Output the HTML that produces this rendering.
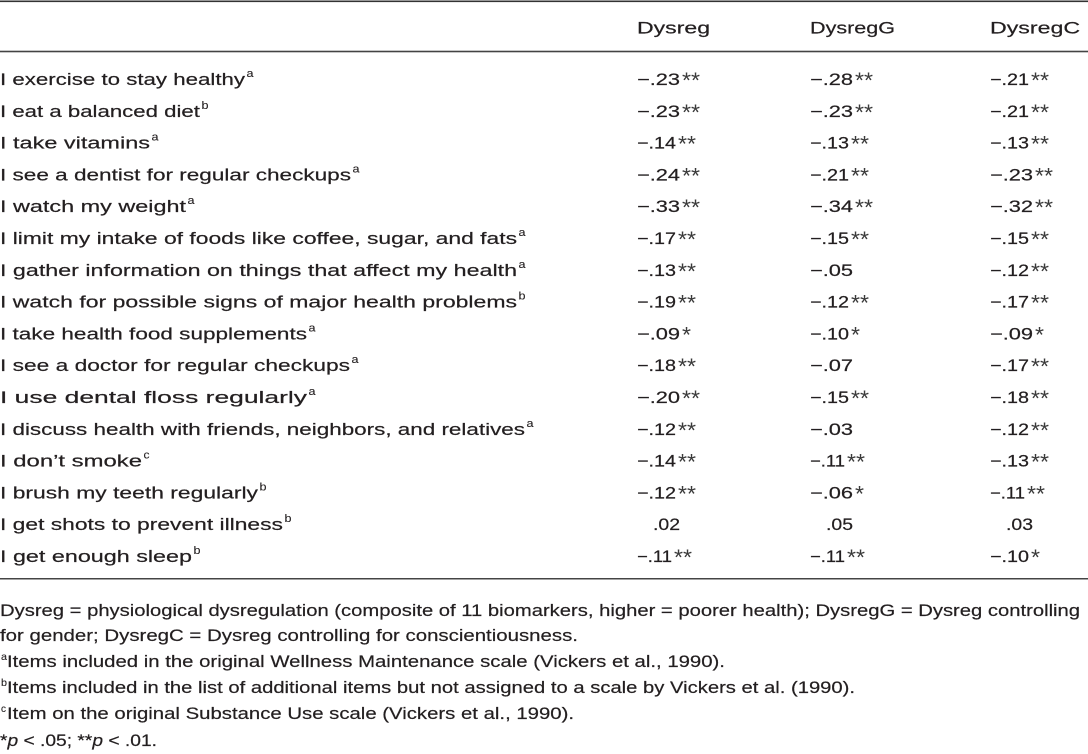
<!DOCTYPE html>
<html>
<head>
<meta charset="utf-8">
<style>
  html, body { margin: 0; padding: 0; background: #ffffff; }
  body { width: 1088px; height: 754px; overflow: hidden; }
  svg { display: block; }
  text { font-family: "Liberation Sans", Arial, sans-serif; fill: #231f20; stroke: #231f20; stroke-width: 0.2px; }
  .m { font-size: 16.3px; }
  .s { font-size: 11px; stroke-width: 0.1px; }
  .st { font-size: 22px; fill: #3a3a3a; stroke: none; }
  .f { font-size: 16.5px; }
  .fs { font-size: 10.5px; stroke-width: 0.1px; }
</style>
</head>
<body>
<svg width="1088" height="754" viewBox="0 0 1088 754" xmlns="http://www.w3.org/2000/svg">
  <!-- rules -->
  <rect x="0" y="0.5" width="1088" height="1.6" fill="#333"/>
  <rect x="0" y="50.7" width="1088" height="1.6" fill="#444"/>
  <rect x="0" y="578" width="1088" height="1.5" fill="#444"/>

  <!-- header -->
  <text class="m" transform="matrix(1.35 0 0 1 637 33.3)" textLength="54.1" lengthAdjust="spacingAndGlyphs">Dysreg</text>
  <text class="m" transform="matrix(1.35 0 0 1 810 33.3)" textLength="63" lengthAdjust="spacingAndGlyphs">DysregG</text>
  <text class="m" transform="matrix(1.35 0 0 1 990 33.3)" textLength="66.7" lengthAdjust="spacingAndGlyphs">DysregC</text>

  <!-- row labels -->
  <text class="m" transform="matrix(1.35 0 0 1 0 85)" textLength="181.5" lengthAdjust="spacingAndGlyphs">I exercise to stay healthy</text>
  <text class="s" x="246.5" y="77" textLength="7" lengthAdjust="spacingAndGlyphs">a</text>

  <text class="m" transform="matrix(1.35 0 0 1 0 116.8)" textLength="148.1" lengthAdjust="spacingAndGlyphs">I eat a balanced diet</text>
  <text class="s" x="201.5" y="108.8" textLength="7" lengthAdjust="spacingAndGlyphs">b</text>

  <text class="m" transform="matrix(1.35 0 0 1 0 148.6)" textLength="111.1" lengthAdjust="spacingAndGlyphs">I take vitamins</text>
  <text class="s" x="151.5" y="140.6" textLength="7" lengthAdjust="spacingAndGlyphs">a</text>

  <text class="m" transform="matrix(1.35 0 0 1 0 180.4)" textLength="260" lengthAdjust="spacingAndGlyphs">I see a dentist for regular checkups</text>
  <text class="s" x="352.5" y="172.4" textLength="7" lengthAdjust="spacingAndGlyphs">a</text>

  <text class="m" transform="matrix(1.35 0 0 1 0 212.2)" textLength="137.8" lengthAdjust="spacingAndGlyphs">I watch my weight</text>
  <text class="s" x="187.5" y="204.2" textLength="7" lengthAdjust="spacingAndGlyphs">a</text>

  <text class="m" transform="matrix(1.35 0 0 1 0 244)" textLength="383" lengthAdjust="spacingAndGlyphs">I limit my intake of foods like coffee, sugar, and fats</text>
  <text class="s" x="518.5" y="236" textLength="7" lengthAdjust="spacingAndGlyphs">a</text>

  <text class="m" transform="matrix(1.35 0 0 1 0 275.8)" textLength="383" lengthAdjust="spacingAndGlyphs">I gather information on things that affect my health</text>
  <text class="s" x="518.5" y="267.8" textLength="7" lengthAdjust="spacingAndGlyphs">a</text>

  <text class="m" transform="matrix(1.35 0 0 1 0 307.6)" textLength="383" lengthAdjust="spacingAndGlyphs">I watch for possible signs of major health problems</text>
  <text class="s" x="518.5" y="299.6" textLength="7" lengthAdjust="spacingAndGlyphs">b</text>

  <text class="m" transform="matrix(1.35 0 0 1 0 339.4)" textLength="227.4" lengthAdjust="spacingAndGlyphs">I take health food supplements</text>
  <text class="s" x="308.5" y="331.4" textLength="7" lengthAdjust="spacingAndGlyphs">a</text>

  <text class="m" transform="matrix(1.35 0 0 1 0 371.2)" textLength="259.3" lengthAdjust="spacingAndGlyphs">I see a doctor for regular checkups</text>
  <text class="s" x="351.5" y="363.2" textLength="7" lengthAdjust="spacingAndGlyphs">a</text>

  <text class="m" transform="matrix(1.35 0 0 1 0 403)" textLength="227.4" lengthAdjust="spacingAndGlyphs">I use dental floss regularly</text>
  <text class="s" x="308.5" y="395" textLength="7" lengthAdjust="spacingAndGlyphs">a</text>

  <text class="m" transform="matrix(1.35 0 0 1 0 434.8)" textLength="388.9" lengthAdjust="spacingAndGlyphs">I discuss health with friends, neighbors, and relatives</text>
  <text class="s" x="526.5" y="426.8" textLength="7" lengthAdjust="spacingAndGlyphs">a</text>

  <text class="m" transform="matrix(1.35 0 0 1 0 466.6)" textLength="105.2" lengthAdjust="spacingAndGlyphs">I don’t smoke</text>
  <text class="s" x="143.5" y="458.6" textLength="6" lengthAdjust="spacingAndGlyphs">c</text>

  <text class="m" transform="matrix(1.35 0 0 1 0 498.4)" textLength="191.1" lengthAdjust="spacingAndGlyphs">I brush my teeth regularly</text>
  <text class="s" x="259.5" y="490.4" textLength="7" lengthAdjust="spacingAndGlyphs">b</text>

  <text class="m" transform="matrix(1.35 0 0 1 0 530.2)" textLength="209.6" lengthAdjust="spacingAndGlyphs">I get shots to prevent illness</text>
  <text class="s" x="284.5" y="522.2" textLength="7" lengthAdjust="spacingAndGlyphs">b</text>

  <text class="m" transform="matrix(1.35 0 0 1 0 562)" textLength="142.2" lengthAdjust="spacingAndGlyphs">I get enough sleep</text>
  <text class="s" x="193.5" y="554" textLength="7" lengthAdjust="spacingAndGlyphs">b</text>

  <!-- Row 1 -->
  <text class="m" transform="matrix(1.35 0 0 1 637 85)" textLength="31.9" lengthAdjust="spacingAndGlyphs">−.23</text><text class="st" x="682" y="88" textLength="18" lengthAdjust="spacingAndGlyphs">**</text>
  <text class="m" transform="matrix(1.35 0 0 1 810 85)" textLength="31.9" lengthAdjust="spacingAndGlyphs">−.28</text><text class="st" x="855" y="88" textLength="18" lengthAdjust="spacingAndGlyphs">**</text>
  <text class="m" transform="matrix(1.35 0 0 1 990 85)" textLength="28.9" lengthAdjust="spacingAndGlyphs">−.21</text><text class="st" x="1031" y="88" textLength="18" lengthAdjust="spacingAndGlyphs">**</text>

  <!-- Row 2 -->
  <text class="m" transform="matrix(1.35 0 0 1 637 116.8)" textLength="31.9" lengthAdjust="spacingAndGlyphs">−.23</text><text class="st" x="682" y="119.8" textLength="18" lengthAdjust="spacingAndGlyphs">**</text>
  <text class="m" transform="matrix(1.35 0 0 1 810 116.8)" textLength="31.9" lengthAdjust="spacingAndGlyphs">−.23</text><text class="st" x="855" y="119.8" textLength="18" lengthAdjust="spacingAndGlyphs">**</text>
  <text class="m" transform="matrix(1.35 0 0 1 990 116.8)" textLength="28.9" lengthAdjust="spacingAndGlyphs">−.21</text><text class="st" x="1031" y="119.8" textLength="18" lengthAdjust="spacingAndGlyphs">**</text>

  <!-- Row 3 -->
  <text class="m" transform="matrix(1.35 0 0 1 637 148.6)" textLength="28.9" lengthAdjust="spacingAndGlyphs">−.14</text><text class="st" x="678" y="151.6" textLength="18" lengthAdjust="spacingAndGlyphs">**</text>
  <text class="m" transform="matrix(1.35 0 0 1 810 148.6)" textLength="28.9" lengthAdjust="spacingAndGlyphs">−.13</text><text class="st" x="851" y="151.6" textLength="18" lengthAdjust="spacingAndGlyphs">**</text>
  <text class="m" transform="matrix(1.35 0 0 1 990 148.6)" textLength="28.9" lengthAdjust="spacingAndGlyphs">−.13</text><text class="st" x="1031" y="151.6" textLength="18" lengthAdjust="spacingAndGlyphs">**</text>

  <!-- Row 4 -->
  <text class="m" transform="matrix(1.35 0 0 1 637 180.4)" textLength="31.9" lengthAdjust="spacingAndGlyphs">−.24</text><text class="st" x="682" y="183.4" textLength="18" lengthAdjust="spacingAndGlyphs">**</text>
  <text class="m" transform="matrix(1.35 0 0 1 810 180.4)" textLength="28.9" lengthAdjust="spacingAndGlyphs">−.21</text><text class="st" x="851" y="183.4" textLength="18" lengthAdjust="spacingAndGlyphs">**</text>
  <text class="m" transform="matrix(1.35 0 0 1 990 180.4)" textLength="31.9" lengthAdjust="spacingAndGlyphs">−.23</text><text class="st" x="1035" y="183.4" textLength="18" lengthAdjust="spacingAndGlyphs">**</text>

  <!-- Row 5 -->
  <text class="m" transform="matrix(1.35 0 0 1 637 212.2)" textLength="31.9" lengthAdjust="spacingAndGlyphs">−.33</text><text class="st" x="682" y="215.2" textLength="18" lengthAdjust="spacingAndGlyphs">**</text>
  <text class="m" transform="matrix(1.35 0 0 1 810 212.2)" textLength="31.9" lengthAdjust="spacingAndGlyphs">−.34</text><text class="st" x="855" y="215.2" textLength="18" lengthAdjust="spacingAndGlyphs">**</text>
  <text class="m" transform="matrix(1.35 0 0 1 990 212.2)" textLength="31.9" lengthAdjust="spacingAndGlyphs">−.32</text><text class="st" x="1035" y="215.2" textLength="18" lengthAdjust="spacingAndGlyphs">**</text>

  <!-- Row 6 -->
  <text class="m" transform="matrix(1.35 0 0 1 637 244)" textLength="28.9" lengthAdjust="spacingAndGlyphs">−.17</text><text class="st" x="678" y="247" textLength="18" lengthAdjust="spacingAndGlyphs">**</text>
  <text class="m" transform="matrix(1.35 0 0 1 810 244)" textLength="28.9" lengthAdjust="spacingAndGlyphs">−.15</text><text class="st" x="851" y="247" textLength="18" lengthAdjust="spacingAndGlyphs">**</text>
  <text class="m" transform="matrix(1.35 0 0 1 990 244)" textLength="28.9" lengthAdjust="spacingAndGlyphs">−.15</text><text class="st" x="1031" y="247" textLength="18" lengthAdjust="spacingAndGlyphs">**</text>

  <!-- Row 7 -->
  <text class="m" transform="matrix(1.35 0 0 1 637 275.8)" textLength="28.9" lengthAdjust="spacingAndGlyphs">−.13</text><text class="st" x="678" y="278.8" textLength="18" lengthAdjust="spacingAndGlyphs">**</text>
  <text class="m" transform="matrix(1.35 0 0 1 810 275.8)" textLength="31.9" lengthAdjust="spacingAndGlyphs">−.05</text>
  <text class="m" transform="matrix(1.35 0 0 1 990 275.8)" textLength="28.9" lengthAdjust="spacingAndGlyphs">−.12</text><text class="st" x="1031" y="278.8" textLength="18" lengthAdjust="spacingAndGlyphs">**</text>

  <!-- Row 8 -->
  <text class="m" transform="matrix(1.35 0 0 1 637 307.6)" textLength="28.9" lengthAdjust="spacingAndGlyphs">−.19</text><text class="st" x="678" y="310.6" textLength="18" lengthAdjust="spacingAndGlyphs">**</text>
  <text class="m" transform="matrix(1.35 0 0 1 810 307.6)" textLength="28.9" lengthAdjust="spacingAndGlyphs">−.12</text><text class="st" x="851" y="310.6" textLength="18" lengthAdjust="spacingAndGlyphs">**</text>
  <text class="m" transform="matrix(1.35 0 0 1 990 307.6)" textLength="28.9" lengthAdjust="spacingAndGlyphs">−.17</text><text class="st" x="1031" y="310.6" textLength="18" lengthAdjust="spacingAndGlyphs">**</text>

  <!-- Row 9 -->
  <text class="m" transform="matrix(1.35 0 0 1 637 339.4)" textLength="31.9" lengthAdjust="spacingAndGlyphs">−.09</text><text class="st" x="682" y="342.4" textLength="9" lengthAdjust="spacingAndGlyphs">*</text>
  <text class="m" transform="matrix(1.35 0 0 1 810 339.4)" textLength="28.9" lengthAdjust="spacingAndGlyphs">−.10</text><text class="st" x="851" y="342.4" textLength="9" lengthAdjust="spacingAndGlyphs">*</text>
  <text class="m" transform="matrix(1.35 0 0 1 990 339.4)" textLength="31.9" lengthAdjust="spacingAndGlyphs">−.09</text><text class="st" x="1035" y="342.4" textLength="9" lengthAdjust="spacingAndGlyphs">*</text>

  <!-- Row 10 -->
  <text class="m" transform="matrix(1.35 0 0 1 637 371.2)" textLength="28.9" lengthAdjust="spacingAndGlyphs">−.18</text><text class="st" x="678" y="374.2" textLength="18" lengthAdjust="spacingAndGlyphs">**</text>
  <text class="m" transform="matrix(1.35 0 0 1 810 371.2)" textLength="31.9" lengthAdjust="spacingAndGlyphs">−.07</text>
  <text class="m" transform="matrix(1.35 0 0 1 990 371.2)" textLength="28.9" lengthAdjust="spacingAndGlyphs">−.17</text><text class="st" x="1031" y="374.2" textLength="18" lengthAdjust="spacingAndGlyphs">**</text>

  <!-- Row 11 -->
  <text class="m" transform="matrix(1.35 0 0 1 637 403)" textLength="31.9" lengthAdjust="spacingAndGlyphs">−.20</text><text class="st" x="682" y="406" textLength="18" lengthAdjust="spacingAndGlyphs">**</text>
  <text class="m" transform="matrix(1.35 0 0 1 810 403)" textLength="28.9" lengthAdjust="spacingAndGlyphs">−.15</text><text class="st" x="851" y="406" textLength="18" lengthAdjust="spacingAndGlyphs">**</text>
  <text class="m" transform="matrix(1.35 0 0 1 990 403)" textLength="28.9" lengthAdjust="spacingAndGlyphs">−.18</text><text class="st" x="1031" y="406" textLength="18" lengthAdjust="spacingAndGlyphs">**</text>

  <!-- Row 12 -->
  <text class="m" transform="matrix(1.35 0 0 1 637 434.8)" textLength="28.9" lengthAdjust="spacingAndGlyphs">−.12</text><text class="st" x="678" y="437.8" textLength="18" lengthAdjust="spacingAndGlyphs">**</text>
  <text class="m" transform="matrix(1.35 0 0 1 810 434.8)" textLength="31.9" lengthAdjust="spacingAndGlyphs">−.03</text>
  <text class="m" transform="matrix(1.35 0 0 1 990 434.8)" textLength="28.9" lengthAdjust="spacingAndGlyphs">−.12</text><text class="st" x="1031" y="437.8" textLength="18" lengthAdjust="spacingAndGlyphs">**</text>

  <!-- Row 13 -->
  <text class="m" transform="matrix(1.35 0 0 1 637 466.6)" textLength="28.9" lengthAdjust="spacingAndGlyphs">−.14</text><text class="st" x="678" y="469.6" textLength="18" lengthAdjust="spacingAndGlyphs">**</text>
  <text class="m" transform="matrix(1.35 0 0 1 810 466.6)" textLength="25.9" lengthAdjust="spacingAndGlyphs">−.11</text><text class="st" x="847" y="469.6" textLength="18" lengthAdjust="spacingAndGlyphs">**</text>
  <text class="m" transform="matrix(1.35 0 0 1 990 466.6)" textLength="28.9" lengthAdjust="spacingAndGlyphs">−.13</text><text class="st" x="1031" y="469.6" textLength="18" lengthAdjust="spacingAndGlyphs">**</text>

  <!-- Row 14 -->
  <text class="m" transform="matrix(1.35 0 0 1 637 498.4)" textLength="28.9" lengthAdjust="spacingAndGlyphs">−.12</text><text class="st" x="678" y="501.4" textLength="18" lengthAdjust="spacingAndGlyphs">**</text>
  <text class="m" transform="matrix(1.35 0 0 1 810 498.4)" textLength="31.9" lengthAdjust="spacingAndGlyphs">−.06</text><text class="st" x="855" y="501.4" textLength="9" lengthAdjust="spacingAndGlyphs">*</text>
  <text class="m" transform="matrix(1.35 0 0 1 990 498.4)" textLength="25.9" lengthAdjust="spacingAndGlyphs">−.11</text><text class="st" x="1027" y="501.4" textLength="18" lengthAdjust="spacingAndGlyphs">**</text>

  <!-- Row 15 -->
  <text class="m" transform="matrix(1.35 0 0 1 653 530.2)" textLength="20" lengthAdjust="spacingAndGlyphs">.02</text>
  <text class="m" transform="matrix(1.35 0 0 1 826 530.2)" textLength="20" lengthAdjust="spacingAndGlyphs">.05</text>
  <text class="m" transform="matrix(1.35 0 0 1 1006 530.2)" textLength="20" lengthAdjust="spacingAndGlyphs">.03</text>

  <!-- Row 16 -->
  <text class="m" transform="matrix(1.35 0 0 1 637 562)" textLength="25.9" lengthAdjust="spacingAndGlyphs">−.11</text><text class="st" x="674" y="565" textLength="18" lengthAdjust="spacingAndGlyphs">**</text>
  <text class="m" transform="matrix(1.35 0 0 1 810 562)" textLength="25.9" lengthAdjust="spacingAndGlyphs">−.11</text><text class="st" x="847" y="565" textLength="18" lengthAdjust="spacingAndGlyphs">**</text>
  <text class="m" transform="matrix(1.35 0 0 1 990 562)" textLength="28.9" lengthAdjust="spacingAndGlyphs">−.10</text><text class="st" x="1031" y="565" textLength="9" lengthAdjust="spacingAndGlyphs">*</text>

  <!-- Footnotes -->
  <text class="f" transform="matrix(1.24 0 0 1 0 616)" textLength="871" lengthAdjust="spacingAndGlyphs">Dysreg = physiological dysregulation (composite of 11 biomarkers, higher = poorer health); DysregG = Dysreg controlling</text>
  <text class="f" transform="matrix(1.24 0 0 1 0 641)" textLength="466.1" lengthAdjust="spacingAndGlyphs">for gender; DysregC = Dysreg controlling for conscientiousness.</text>

  <text class="fs" x="1" y="660" textLength="6" lengthAdjust="spacingAndGlyphs">a</text>
  <text class="f" transform="matrix(1.24 0 0 1 7 667)" textLength="579" lengthAdjust="spacingAndGlyphs">Items included in the original Wellness Maintenance scale (Vickers et al., 1990).</text>

  <text class="fs" x="1" y="686" textLength="6" lengthAdjust="spacingAndGlyphs">b</text>
  <text class="f" transform="matrix(1.24 0 0 1 7 693)" textLength="683.9" lengthAdjust="spacingAndGlyphs">Items included in the list of additional items but not assigned to a scale by Vickers et al. (1990).</text>

  <text class="fs" x="1" y="712" textLength="5" lengthAdjust="spacingAndGlyphs">c</text>
  <text class="f" transform="matrix(1.24 0 0 1 7 719)" textLength="457.3" lengthAdjust="spacingAndGlyphs">Item on the original Substance Use scale (Vickers et al., 1990).</text>

  <text class="f" transform="matrix(1.24 0 0 1 0 746)" textLength="126.6" lengthAdjust="spacingAndGlyphs">*<tspan font-style="italic">p</tspan> &lt; .05; **<tspan font-style="italic">p</tspan> &lt; .01.</text>
</svg>
</body>
</html>
